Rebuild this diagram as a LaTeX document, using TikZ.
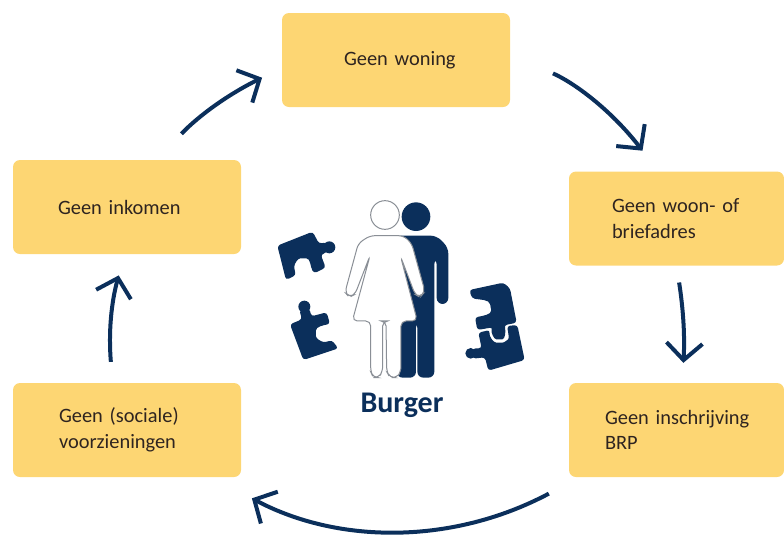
\documentclass[tikz,border=0pt]{standalone}
\usepackage{fontspec}
\setmainfont{Carlito}
\usetikzlibrary{arrows.meta}
\definecolor{boxgeel}{HTML}{FDD673}
\definecolor{navy}{HTML}{0B2F5B}
\definecolor{tekst}{HTML}{2E2420}
\definecolor{lijn}{HTML}{8A8F96}
\tikzset{
	box/.style 2 args={fill=boxgeel, rounded corners=7pt, minimum height=94pt, minimum width=#2, text width=#2-2*#1, inner xsep=#1, inner ysep=0pt, align=left, text=tekst, font=\fontsize{20.4}{25.5}\selectfont},
	flow/.style={draw=navy, line width=4pt, -{Straight Barb[length=17pt,width=36pt,line width=4pt]}}
}
\begin{document}
\begin{tikzpicture}[x=1pt,y=-1pt]
			\useasboundingbox (0,0) rectangle (784,536);
			\node[box={62pt}{228pt}] (Woning) at (396,60){\mbox{Geen woning}};
			\node[box={43pt}{215pt}] (Adres) at (676.5,218.5){Geen woon- of\\briefadres};
			\node[box={36pt}{215pt}] (Brp) at (676.5,430){\mbox{Geen inschrijving}\\BRP};
			\node[box={46pt}{228pt}] (Voorz) at (127,430){Geen (sociale)\\voorzieningen};
			\node[box={45pt}{228pt}] (Inkomen) at (127,207){Geen inkomen};
			\draw[flow, shorten <=47pt, shorten >=26pt] (Woning.3) to[bend left=14] (Adres.111);
			\draw[flow, shorten <=17pt, shorten >=20pt] (Adres.south) to[bend left=6] (Brp.83);
			\draw[flow, shorten <=35pt, shorten >=45pt] (Brp.206) to[bend left=28] (Voorz.-29.5);
			\draw[flow, shorten <=21pt, shorten >=22pt] (Voorz.107) to[bend left=10] (Inkomen.-93);
			\draw[flow, shorten <=36pt, shorten >=22pt] (Inkomen.58) to[bend left=10] (Woning.184);
			\begin{scope}[shift={(340,195)},x=.3333pt,y=-.3333pt]
				\fill[navy] (228,65) circle (43);
				\fill[navy, rounded corners=6pt] (190,122) -- (290,122) -- (325,158) -- (325,327) -- (290,327) -- (290,190) -- (283,190) -- (283,548) -- (232,548) -- (232,380) -- (228,380) -- (228,548) -- (170,548) -- (170,122) -- cycle;
				\draw[lijn, fill=white, line width=1pt] (135,60) circle (43);
				\draw[lijn, fill=white, line width=1pt, rounded corners=5pt] (90,122) -- (190,122) -- (215,145) -- (255,290) -- (240,307) -- (225,298) -- (182,185) -- (232,378) -- (183,378) -- (183,530) -- (170,548) -- (150,548) -- (140,530) -- (138,378) -- (128,378) -- (128,530) -- (115,548) -- (100,548) -- (92,530) -- (92,378) -- (37,378) -- (90,182) -- (45,298) -- (28,307) -- (15,292) -- (55,145) -- cycle;
			\end{scope}
			\begin{scope}[shift={(270,225)},x=.3333pt,y=-.3333pt]
				\fill[navy, rounded corners=3pt] (22,62) -- (128,20) -- (147,56) -- (170,52) -- (170,84) -- (152,88) -- (167,128) -- (132,145) to[out=120,in=0] (100,100) to[out=180,in=80] (72,130) -- (78,150) -- (48,165) -- cycle;
				\fill[navy] (178,67) circle (18);
				\fill[navy, rounded corners=3pt] (60,298) -- (96,283) -- (88,255) -- (118,250) -- (124,274) -- (170,262) -- (180,297) to[out=190,in=90] (138,325) to[out=-90,in=170] (168,352) -- (185,345) -- (205,370) -- (100,405) -- cycle;
				\fill[navy] (103,245) circle (18);
			\end{scope}
			\begin{scope}[shift={(460,280)},x=.3333pt,y=-.3333pt]
				\fill[navy, rounded corners=3pt] (28,30) -- (130,8) -- (150,25) -- (170,128) -- (132,136) to[out=-70,in=0] (118,178) to[out=180,in=-110] (98,142) -- (52,150) -- (45,112) to[out=10,in=-80] (92,82) to[out=100,in=-10] (36,55) -- cycle;
				\fill[navy, rounded corners=3pt] (55,158) -- (90,150) to[out=-100,in=180] (118,188) to[out=0,in=-90] (146,165) -- (141,138) -- (172,135) -- (194,240) -- (85,272) -- (75,232) -- (38,236) -- (38,205) -- (65,205) -- cycle;
				\fill[navy] (32,220) circle (16);
			\end{scope}
			\node[text=navy, font=\fontsize{30}{32}\selectfont\bfseries] (Burger) at (402,405){Burger};
		\end{tikzpicture}
\end{document}
